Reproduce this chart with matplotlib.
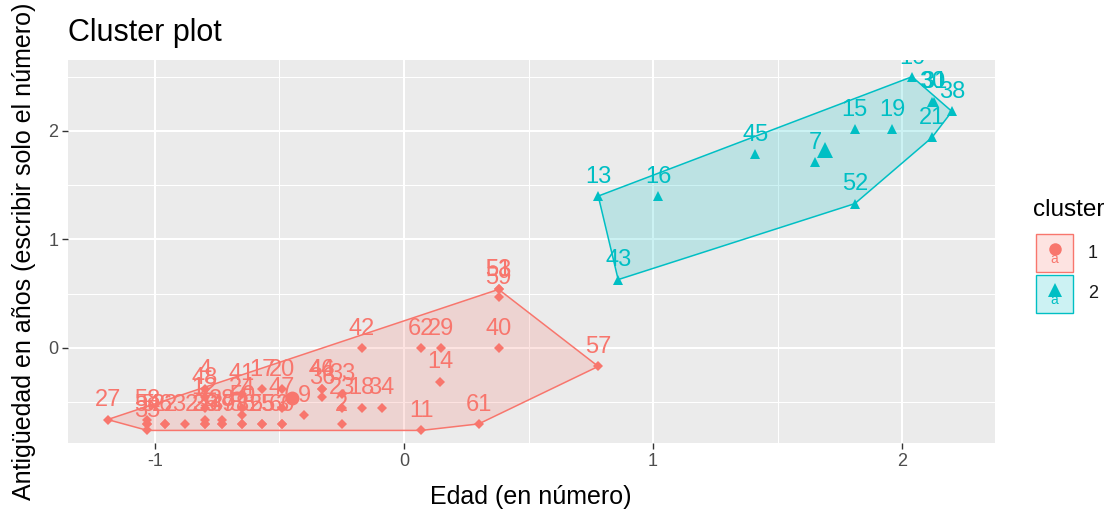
import numpy as np
import matplotlib.pyplot as plt
from matplotlib.patches import Rectangle, Polygon
from matplotlib.lines import Line2D

plt.rcParams['font.family'] = ['Liberation Sans', 'DejaVu Sans']
plt.rcParams['axes.unicode_minus'] = False

# --- data (standardised values) ---
# cluster 1
c1_x = [-1.19, -1.03, -1.03, -1.03, -1.03, -0.96, -0.96, -0.88, -0.80, -0.80,
        -0.80, -0.80, -0.80, -0.80, -0.73, -0.73, -0.73, -0.65, -0.65, -0.65,
        -0.65, -0.65, -0.57, -0.57, -0.49, -0.49, -0.49, -0.49, -0.40, -0.33,
        -0.33, -0.33, -0.25, -0.25, -0.25, -0.17, -0.09, -0.17, 0.07, 0.15,
        0.38, 0.145, 0.78, 0.30, 0.07, 0.38, 0.38, 0.38, -0.57]
c1_y = [-0.66, -0.66, -0.70, -0.70, -0.76, -0.70, -0.70, -0.70, -0.38, -0.45,
        -0.55, -0.66, -0.70, -0.70, -0.66, -0.70, -0.70, -0.42, -0.55, -0.62,
        -0.70, -0.70, -0.38, -0.70, -0.38, -0.55, -0.70, -0.70, -0.62, -0.38,
        -0.38, -0.45, -0.42, -0.55, -0.70, -0.55, -0.55, 0.00, 0.00, 0.00,
        0.00, -0.31, -0.17, -0.70, -0.76, 0.54, 0.54, 0.47, -0.70]
c1_lab = ['27', '58', '5', '54', '35', '6', '22', '32', '4', '48',
          '12', '1', '39', '26', '28', '49', '37', '41', '24', '50',
          '56', '8', '17', '55', '20', '47', '60', '3', '9', '44',
          '46', '36', '33', '23', '2', '18', '34', '42', '62', '29',
          '40', '14', '57', '61', '11', '51', '53', '59', '25']
c1_center = (-0.45, -0.46)

# cluster 2
c2_x = [0.78, 1.02, 0.86, 1.41, 1.65, 1.81, 1.96, 1.81, 2.12, 2.20, 2.12, 2.13, 2.04]
c2_y = [1.40, 1.40, 0.63, 1.79, 1.71, 2.02, 2.02, 1.33, 1.94, 2.18, 2.27, 2.27, 2.50]
c2_lab = ['13', '16', '43', '45', '7', '15', '19', '52', '21', '38', '30', '31', '10']
c2_center = (1.69, 1.82)

red = '#F8766D'
blue = '#00BFC4'


def convex_hull(xs, ys):
    pts = sorted(set(zip(xs, ys)))

    def cross(o, a, b):
        return (a[0] - o[0]) * (b[1] - o[1]) - (a[1] - o[1]) * (b[0] - o[0])

    lower = []
    for p in pts:
        while len(lower) >= 2 and cross(lower[-2], lower[-1], p) <= 0:
            lower.pop()
        lower.append(p)
    upper = []
    for p in reversed(pts):
        while len(upper) >= 2 and cross(upper[-2], upper[-1], p) <= 0:
            upper.pop()
        upper.append(p)
    return lower[:-1] + upper[:-1]


W, H = 1110, 514
fig = plt.figure(figsize=(W / 100, H / 100), dpi=100)
ax = fig.add_axes([68 / W, 1 - 443 / H, (995 - 68) / W, (443 - 60) / H])
ax.set_facecolor('#EBEBEB')
for s in ax.spines.values():
    s.set_visible(False)

ax.set_xticks([-1, 0, 1, 2])
ax.set_yticks([0, 1, 2])
ax.set_xticks([-0.5, 0.5, 1.5], minor=True)
ax.set_yticks([-0.5, 0.5, 1.5, 2.5], minor=True)
ax.set_xlim(-1.349, 2.373)
ax.set_ylim(-0.876, 2.654)
ax.grid(which='major', color='white', lw=1.5)
ax.grid(which='minor', color='white', lw=0.75)
ax.set_axisbelow(True)
ax.tick_params(which='major', length=4, width=1, color='#333333',
               labelcolor='#4D4D4D', labelsize=13, pad=3)
ax.tick_params(which='minor', length=0)

for xs, ys, labs, col, mk, ms, cen, cms in [
        (c1_x, c1_y, c1_lab, red, 'D', 5.5, c1_center, 10),
        (c2_x, c2_y, c2_lab, blue, '^', 7, c2_center, 12)]:
    hull = convex_hull(xs, ys)
    ax.add_patch(Polygon(hull, closed=True, facecolor=col, alpha=0.2, edgecolor='none', zorder=2))
    ax.add_patch(Polygon(hull, closed=True, facecolor='none', edgecolor=col, lw=1.1, zorder=3))
    ax.plot(xs, ys, ls='none', marker=mk, ms=ms, color=col, mew=0, zorder=4)
    ax.plot([cen[0]], [cen[1]], ls='none', marker='o' if mk == 'D' else mk,
            ms=cms, color=col, mew=0, zorder=4)
    for x, y, t in zip(xs, ys, labs):
        a = ax.annotate(t, (x, y), xytext=(0, 9.5), textcoords='offset points',
                        ha='center', va='baseline', fontsize=17, color=col, zorder=5)
        a.set_clip_path(ax.patch)

# titles
fig.text(68 / W, 1 - 33 / H, 'Cluster plot', fontsize=22, ha='left', va='center')
fig.text(531 / W, 1 - 497 / H, 'Edad (en número)', fontsize=18, ha='center', va='center')
fig.text(24 / W, 1 - 251.5 / H, 'Antigüedad en años (escribir solo el número)',
         fontsize=18, ha='center', va='center', rotation=90)

# legend
fig.text(1033 / W, 1 - 210 / H, 'cluster', fontsize=17.5, ha='left', va='center')
for i, (col, mk, ms, lab) in enumerate([(red, 'o', 9, '1'), (blue, '^', 10, '2')]):
    y0 = 234 + i * 41
    fig.add_artist(Rectangle((1036 / W, 1 - (y0 + 38) / H), 37 / W, 38 / H,
                             transform=fig.transFigure, facecolor=col, alpha=0.2, edgecolor='none'))
    fig.add_artist(Rectangle((1036 / W, 1 - (y0 + 38) / H), 37 / W, 38 / H,
                             transform=fig.transFigure, facecolor='none', edgecolor=col, lw=1))
    fig.text(1054.5 / W, 1 - (y0 + 25) / H, 'a', fontsize=10, color=col, ha='center', va='center')
    fig.add_artist(Line2D([1054.5 / W], [1 - (y0 + 15) / H], transform=fig.transFigure,
                          marker=mk, ms=ms, color=col, mew=0, ls='none'))
    fig.text(1088 / W, 1 - (y0 + 19) / H, lab, fontsize=13, color='#1A1A1A', ha='left', va='center')

fig.savefig('out.png', dpi=100)
